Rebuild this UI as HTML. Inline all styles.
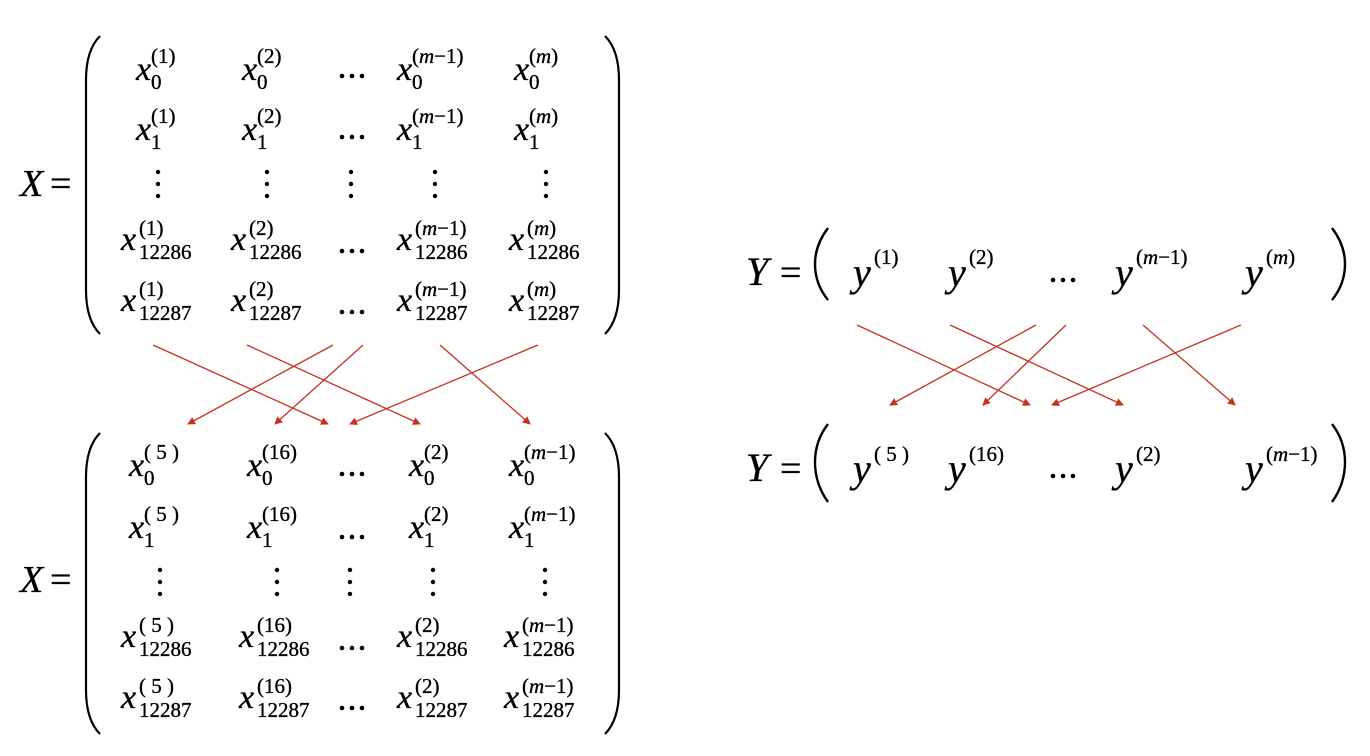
<!DOCTYPE html>
<html><head><meta charset="utf-8"><style>
body{margin:0;background:#fff}
svg{display:block}
svg text{font-family:"Liberation Serif","DejaVu Serif",serif !important;fill:#000;stroke:#000;stroke-width:0.35px}
.b{font-size:34px;font-style:italic}
.s{font-size:21px}
.i{font-style:italic}
.B{font-size:38px;font-style:italic}
.Y{font-size:40px;font-style:italic}
.E{font-size:38px}
</style></head><body>
<svg width="1370" height="756" viewBox="0 0 1370 756" font-family="Liberation Serif, serif">
<defs><marker id="ah" markerWidth="8" markerHeight="8" refX="7" refY="4" orient="auto" markerUnits="userSpaceOnUse"><path d="M0,0 L8,4 L0,8 z" fill="#c8311f"/></marker>
<g id="el"><circle cx="0" cy="0" r="2.3"/><circle cx="10" cy="0" r="2.3"/><circle cx="20" cy="0" r="2.3"/></g></defs>

<!-- TOP X -->
<text x="20" y="196" class="B">X</text><text x="50" y="196" class="E">=</text>
<path d="M100,36 Q86,50 86,80 L86,290 Q86,320 100,334" fill="none" stroke="#000" stroke-width="2.2"/>
<path d="M605,36 Q619,50 619,80 L619,290 Q619,320 605,334" fill="none" stroke="#000" stroke-width="2.2"/>
<g>
<text x="136" y="80" class="b">x</text><text x="151" y="63" class="s">(1)</text><text x="151" y="89" class="s">0</text>
<text x="242" y="80" class="b">x</text><text x="257" y="63" class="s">(2)</text><text x="257" y="89" class="s">0</text>
<text x="397" y="80" class="b">x</text><text x="412" y="63" class="s">(<tspan class="i">m</tspan>−1)</text><text x="412" y="89" class="s">0</text>
<text x="514" y="80" class="b">x</text><text x="529" y="63" class="s">(<tspan class="i">m</tspan>)</text><text x="529" y="89" class="s">0</text>

<text x="136" y="140" class="b">x</text><text x="151" y="123" class="s">(1)</text><text x="151" y="149" class="s">1</text>
<text x="242" y="140" class="b">x</text><text x="257" y="123" class="s">(2)</text><text x="257" y="149" class="s">1</text>
<text x="397" y="140" class="b">x</text><text x="412" y="123" class="s">(<tspan class="i">m</tspan>−1)</text><text x="412" y="149" class="s">1</text>
<text x="514" y="140" class="b">x</text><text x="529" y="123" class="s">(<tspan class="i">m</tspan>)</text><text x="529" y="149" class="s">1</text>

<text x="121" y="250" class="b">x</text><text x="139" y="235" class="s">(1)</text><text x="139" y="259" class="s">12286</text>
<text x="231" y="250" class="b">x</text><text x="249" y="235" class="s">(2)</text><text x="249" y="259" class="s">12286</text>
<text x="397" y="250" class="b">x</text><text x="415" y="235" class="s">(<tspan class="i">m</tspan>−1)</text><text x="415" y="259" class="s">12286</text>
<text x="509" y="250" class="b">x</text><text x="527" y="235" class="s">(<tspan class="i">m</tspan>)</text><text x="527" y="259" class="s">12286</text>

<text x="121" y="311" class="b">x</text><text x="139" y="296" class="s">(1)</text><text x="139" y="320" class="s">12287</text>
<text x="231" y="311" class="b">x</text><text x="249" y="296" class="s">(2)</text><text x="249" y="320" class="s">12287</text>
<text x="397" y="311" class="b">x</text><text x="415" y="296" class="s">(<tspan class="i">m</tspan>−1)</text><text x="415" y="320" class="s">12287</text>
<text x="509" y="311" class="b">x</text><text x="527" y="296" class="s">(<tspan class="i">m</tspan>)</text><text x="527" y="320" class="s">12287</text>
</g>
<g fill="#000">
<use href="#el" x="342" y="76"/><use href="#el" x="342" y="137"/><use href="#el" x="342" y="251"/><use href="#el" x="342" y="312"/>
<circle cx="158" cy="172" r="2.2"/><circle cx="158" cy="184" r="2.2"/><circle cx="158" cy="196" r="2.2"/>
<circle cx="267" cy="172" r="2.2"/><circle cx="267" cy="184" r="2.2"/><circle cx="267" cy="196" r="2.2"/>
<circle cx="351" cy="172" r="2.2"/><circle cx="351" cy="184" r="2.2"/><circle cx="351" cy="196" r="2.2"/>
<circle cx="435" cy="172" r="2.2"/><circle cx="435" cy="184" r="2.2"/><circle cx="435" cy="196" r="2.2"/>
<circle cx="546" cy="172" r="2.2"/><circle cx="546" cy="184" r="2.2"/><circle cx="546" cy="196" r="2.2"/>
</g>

<g stroke="#c8311f" stroke-width="1.3" fill="none" marker-end="url(#ah)">
<line x1="153" y1="345" x2="328" y2="424"/>
<line x1="247" y1="345" x2="420" y2="424"/>
<line x1="333" y1="345" x2="188" y2="424"/>
<line x1="363" y1="345" x2="275" y2="424"/>
<line x1="440" y1="345" x2="530" y2="424"/>
<line x1="538" y1="345" x2="350" y2="424"/>
</g>

<!-- BOTTOM X -->
<text x="20" y="592" class="B">X</text><text x="50" y="592" class="E">=</text>
<path d="M100,433 Q86,447 86,477 L86,690 Q86,720 100,734" fill="none" stroke="#000" stroke-width="2.2"/>
<path d="M605,433 Q619,447 619,477 L619,690 Q619,720 605,734" fill="none" stroke="#000" stroke-width="2.2"/>
<g>
<text x="129" y="476" class="b">x</text><text x="144" y="459" class="s">( 5 )</text><text x="144" y="485" class="s">0</text>
<text x="247" y="476" class="b">x</text><text x="262" y="459" class="s">(16)</text><text x="262" y="485" class="s">0</text>
<text x="409" y="476" class="b">x</text><text x="424" y="459" class="s">(2)</text><text x="424" y="485" class="s">0</text>
<text x="509" y="476" class="b">x</text><text x="524" y="459" class="s">(<tspan class="i">m</tspan>−1)</text><text x="524" y="485" class="s">0</text>

<text x="129" y="538" class="b">x</text><text x="144" y="521" class="s">( 5 )</text><text x="144" y="547" class="s">1</text>
<text x="247" y="538" class="b">x</text><text x="262" y="521" class="s">(16)</text><text x="262" y="547" class="s">1</text>
<text x="409" y="538" class="b">x</text><text x="424" y="521" class="s">(2)</text><text x="424" y="547" class="s">1</text>
<text x="509" y="538" class="b">x</text><text x="524" y="521" class="s">(<tspan class="i">m</tspan>−1)</text><text x="524" y="547" class="s">1</text>

<text x="121" y="647" class="b">x</text><text x="139" y="632" class="s">( 5 )</text><text x="139" y="656" class="s">12286</text>
<text x="239" y="647" class="b">x</text><text x="257" y="632" class="s">(16)</text><text x="257" y="656" class="s">12286</text>
<text x="397" y="647" class="b">x</text><text x="415" y="632" class="s">(2)</text><text x="415" y="656" class="s">12286</text>
<text x="504" y="647" class="b">x</text><text x="522" y="632" class="s">(<tspan class="i">m</tspan>−1)</text><text x="522" y="656" class="s">12286</text>

<text x="121" y="708" class="b">x</text><text x="139" y="693" class="s">( 5 )</text><text x="139" y="717" class="s">12287</text>
<text x="239" y="708" class="b">x</text><text x="257" y="693" class="s">(16)</text><text x="257" y="717" class="s">12287</text>
<text x="397" y="708" class="b">x</text><text x="415" y="693" class="s">(2)</text><text x="415" y="717" class="s">12287</text>
<text x="504" y="708" class="b">x</text><text x="522" y="693" class="s">(<tspan class="i">m</tspan>−1)</text><text x="522" y="717" class="s">12287</text>
</g>
<g fill="#000">
<use href="#el" x="342" y="474"/><use href="#el" x="342" y="537"/><use href="#el" x="342" y="648"/><use href="#el" x="342" y="708"/>
<circle cx="160" cy="570" r="2.2"/><circle cx="160" cy="582" r="2.2"/><circle cx="160" cy="594" r="2.2"/>
<circle cx="277" cy="570" r="2.2"/><circle cx="277" cy="582" r="2.2"/><circle cx="277" cy="594" r="2.2"/>
<circle cx="350" cy="570" r="2.2"/><circle cx="350" cy="582" r="2.2"/><circle cx="350" cy="594" r="2.2"/>
<circle cx="433" cy="570" r="2.2"/><circle cx="433" cy="582" r="2.2"/><circle cx="433" cy="594" r="2.2"/>
<circle cx="545" cy="570" r="2.2"/><circle cx="545" cy="582" r="2.2"/><circle cx="545" cy="594" r="2.2"/>
</g>

<!-- TOP Y -->
<text x="746" y="285" class="Y">Y</text><text x="780" y="285" class="E">=</text>
<path d="M828,228 Q815,245 815,264 Q815,284 828,300" fill="none" stroke="#000" stroke-width="2.4"/>
<path d="M1332,228 Q1345,245 1345,264 Q1345,284 1332,300" fill="none" stroke="#000" stroke-width="2.4"/>
<text x="853" y="286" class="Y">y</text><text x="874" y="264" class="s">(1)</text>
<text x="948" y="286" class="Y">y</text><text x="969" y="264" class="s">(2)</text>
<text x="1115" y="286" class="Y">y</text><text x="1136" y="264" class="s">(<tspan class="i">m</tspan>−1)</text>
<text x="1245" y="286" class="Y">y</text><text x="1266" y="264" class="s">(<tspan class="i">m</tspan>)</text>
<g fill="#000"><use href="#el" x="1053" y="280"/><use href="#el" x="1053" y="476"/></g>

<g stroke="#c8311f" stroke-width="1.3" fill="none" marker-end="url(#ah)">
<line x1="857" y1="325" x2="1030" y2="405"/>
<line x1="950" y1="325" x2="1123" y2="405"/>
<line x1="1036" y1="325" x2="890" y2="405"/>
<line x1="1066" y1="325" x2="983" y2="405"/>
<line x1="1143" y1="325" x2="1235" y2="405"/>
<line x1="1241" y1="325" x2="1052" y2="405"/>
</g>

<!-- BOTTOM Y -->
<text x="746" y="481" class="Y">Y</text><text x="780" y="481" class="E">=</text>
<path d="M828,424 Q815,441 815,462 Q815,484 828,502" fill="none" stroke="#000" stroke-width="2.4"/>
<path d="M1332,424 Q1345,441 1345,462 Q1345,484 1332,502" fill="none" stroke="#000" stroke-width="2.4"/>
<text x="853" y="482" class="Y">y</text><text x="874" y="461" class="s">( 5 )</text>
<text x="948" y="482" class="Y">y</text><text x="969" y="461" class="s">(16)</text>
<text x="1115" y="482" class="Y">y</text><text x="1136" y="461" class="s">(2)</text>
<text x="1245" y="482" class="Y">y</text><text x="1266" y="461" class="s">(<tspan class="i">m</tspan>−1)</text>
</svg>
</body></html>
